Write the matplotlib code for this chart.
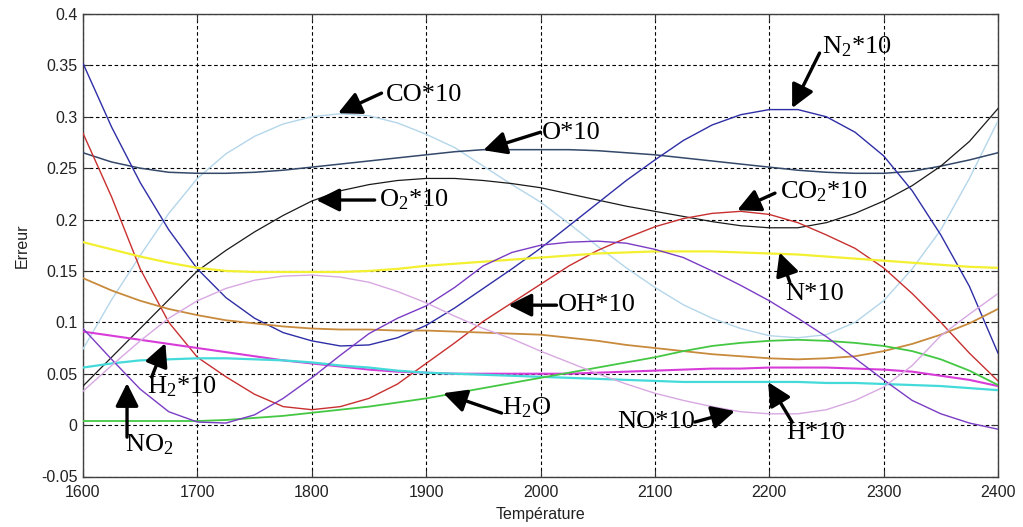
import numpy as np
import matplotlib
matplotlib.use("Agg")
import matplotlib.pyplot as plt

plt.rcParams['mathtext.fontset'] = 'custom'
plt.rcParams['mathtext.rm'] = 'Liberation Serif'
plt.rcParams['mathtext.it'] = 'Liberation Serif:italic'

# Temperature grid (K)
temperature = list(range(1600, 2401, 25))

err_N2 = [0.352, 0.290, 0.236, 0.190, 0.152, 0.124, 0.104, 0.090, 0.082, 0.077, 0.078,
          0.085, 0.097, 0.114, 0.133, 0.152, 0.172, 0.194, 0.216, 0.238, 0.258, 0.277,
          0.292, 0.302, 0.307, 0.307, 0.300, 0.285, 0.262, 0.228, 0.185, 0.135, 0.070]
err_CO = [0.074, 0.122, 0.165, 0.206, 0.240, 0.264, 0.281, 0.293, 0.300, 0.303, 0.301,
          0.294, 0.283, 0.270, 0.252, 0.234, 0.217, 0.196, 0.174, 0.153, 0.134, 0.117,
          0.104, 0.094, 0.087, 0.085, 0.088, 0.100, 0.121, 0.152, 0.190, 0.240, 0.296]
err_O = [0.265, 0.256, 0.250, 0.246, 0.245, 0.245, 0.246, 0.248, 0.251, 0.254, 0.257,
         0.260, 0.263, 0.266, 0.268, 0.268, 0.268, 0.268, 0.267, 0.265, 0.263, 0.260,
         0.257, 0.254, 0.251, 0.248, 0.246, 0.245, 0.245, 0.247, 0.252, 0.258, 0.265]
err_O2 = [0.038, 0.066, 0.094, 0.122, 0.150, 0.170, 0.188, 0.204, 0.218, 0.228, 0.234,
          0.238, 0.240, 0.240, 0.238, 0.235, 0.231, 0.225, 0.219, 0.213, 0.208, 0.203,
          0.198, 0.194, 0.192, 0.192, 0.197, 0.206, 0.218, 0.233, 0.252, 0.276, 0.308]
err_CO2 = [0.284, 0.222, 0.152, 0.100, 0.066, 0.047, 0.030, 0.018, 0.015, 0.018, 0.026,
           0.040, 0.060, 0.080, 0.101, 0.119, 0.137, 0.155, 0.170, 0.182, 0.193, 0.201,
           0.206, 0.208, 0.205, 0.197, 0.185, 0.172, 0.153, 0.128, 0.100, 0.070, 0.043]
err_N = [0.178, 0.171, 0.164, 0.158, 0.153, 0.150, 0.149, 0.149, 0.149, 0.149, 0.150,
         0.152, 0.155, 0.157, 0.159, 0.161, 0.163, 0.165, 0.167, 0.168, 0.169, 0.169,
         0.169, 0.168, 0.167, 0.166, 0.164, 0.162, 0.160, 0.158, 0.156, 0.154, 0.153]
err_other = [0.143, 0.131, 0.121, 0.113, 0.107, 0.102, 0.099, 0.096, 0.094, 0.093, 0.093,
             0.092, 0.092, 0.091, 0.090, 0.089, 0.088, 0.085, 0.082, 0.078, 0.075, 0.072,
             0.069, 0.067, 0.065, 0.064, 0.065, 0.067, 0.072, 0.079, 0.088, 0.099, 0.113]
err_H2 = [0.091, 0.087, 0.083, 0.079, 0.075, 0.071, 0.067, 0.063, 0.060, 0.057, 0.054,
          0.052, 0.051, 0.050, 0.050, 0.050, 0.050, 0.050, 0.051, 0.052, 0.053, 0.054,
          0.055, 0.055, 0.056, 0.056, 0.056, 0.055, 0.054, 0.052, 0.048, 0.044, 0.038]
err_H = [0.056, 0.060, 0.063, 0.064, 0.065, 0.065, 0.064, 0.063, 0.061, 0.058, 0.056,
         0.053, 0.051, 0.050, 0.049, 0.048, 0.047, 0.046, 0.045, 0.044, 0.043, 0.042,
         0.042, 0.042, 0.042, 0.042, 0.041, 0.041, 0.040, 0.039, 0.038, 0.036, 0.034]
err_H2O = [0.004, 0.004, 0.004, 0.004, 0.004, 0.005, 0.007, 0.009, 0.012, 0.015, 0.018,
           0.022, 0.026, 0.031, 0.036, 0.041, 0.046, 0.051, 0.056, 0.061, 0.066, 0.072,
           0.077, 0.080, 0.082, 0.083, 0.082, 0.080, 0.077, 0.072, 0.064, 0.053, 0.039]
err_NO2 = [0.094, 0.064, 0.035, 0.013, 0.003, 0.002, 0.010, 0.026, 0.046, 0.068, 0.089,
           0.104, 0.116, 0.134, 0.155, 0.168, 0.175, 0.178, 0.179, 0.177, 0.171, 0.163,
           0.150, 0.136, 0.121, 0.104, 0.086, 0.065, 0.044, 0.024, 0.011, 0.002, -0.004]
err_NO = [0.033, 0.058, 0.082, 0.104, 0.121, 0.133, 0.141, 0.145, 0.146, 0.144, 0.139,
          0.130, 0.119, 0.106, 0.094, 0.084, 0.072, 0.061, 0.050, 0.040, 0.031, 0.024,
          0.018, 0.013, 0.011, 0.011, 0.015, 0.024, 0.037, 0.058, 0.087, 0.108, 0.128]

series = [
    (err_CO, '#b4d6ea', 1.0),
    (err_O, '#34486a', 1.1),
    (err_O2, '#1a1a1a', 0.9),
    (err_N2, '#2e2ea6', 1.0),
    (err_CO2, '#c83030', 1.0),
    (err_N, '#f2f030', 1.6),
    (err_other, '#c88a3c', 1.3),
    (err_H2, '#d83cd8', 1.5),
    (err_H, '#44dada', 1.6),
    (err_H2O, '#44c844', 1.3),
    (err_NO2, '#7a3cc4', 1.0),
    (err_NO, '#d8a8e2', 1.0),
]

# label, text anchor, arrow tail, arrow tip (data coordinates)
labels = [
    (r'CO*10', (1865, 0.321), (1861, 0.323), (1823, 0.3035)),
    (r'O*10', (2001, 0.284), (2000, 0.285), (1950, 0.2675)),
    (r'O$_2$*10', (1859, 0.219), (1855, 0.219), (1804, 0.219)),
    (r'N$_2$*10', (2246, 0.368), (2244, 0.362), (2220, 0.3084)),
    (r'CO$_2$*10', (2209, 0.2267), (2205, 0.2257), (2172, 0.2091)),
    (r'N*10', (2214, 0.128), (2218, 0.139), (2209, 0.168)),
    (r'OH*10', (2015, 0.1167), (2014, 0.1167), (1972, 0.1167)),
    (r'H$_2$O', (1966, 0.0165), (1966, 0.0117), (1915, 0.0311)),
    (r'NO*10', (2067, 0.003), (2135, 0.003), (2170, 0.0136)),
    (r'H*10', (2215, -0.0078), (2220, 0.003), (2199, 0.0418)),
    (r'H$_2$*10', (1656, 0.037), (1660, 0.0467), (1672, 0.0798)),
    (r'NO$_2$', (1637, -0.0195), (1638.5, -0.0117), (1638.5, 0.0409)),
]

W, H = 1023, 527
fig = plt.figure(figsize=(W / 100, H / 100), dpi=100)
ax = fig.add_axes([83 / W, 1 - 476.5 / H, 915 / W, 462.5 / H])

for vals, color, lw in series:
    ax.plot(temperature, vals, color=color, lw=lw, zorder=3)

ax.set_xlim(1600, 2400)
ax.set_ylim(-0.05, 0.4)
ax.set_xticks(np.arange(1600, 2401, 100))
ax.set_yticks(np.arange(-0.05, 0.401, 0.05))
ax.set_yticklabels(['-0.05', '0', '0.05', '0.1', '0.15', '0.2', '0.25', '0.3', '0.35', '0.4'])
ax.grid(True, color='black', linestyle=(0, (3.2, 2.4)), lw=0.8, zorder=1)
ax.tick_params(direction='in', length=5, width=0.8, top=True, right=True,
               labelsize=11.5, colors='#333333')
ax.tick_params(axis='x', pad=6)
ax.tick_params(axis='y', pad=4)
for lab in ax.get_xticklabels() + ax.get_yticklabels():
    lab.set_family('Liberation Sans')
    lab.set_color('#222222')
for sp in ax.spines.values():
    sp.set_color('#404040')
    sp.set_linewidth(1.0)

ax.set_xlabel('Température', family='Liberation Sans', fontsize=11.5, color='#222222', labelpad=5)
ax.set_ylabel('Erreur', family='Liberation Sans', fontsize=11.5, color='#222222', labelpad=8)

for text, txy, tail, tip in labels:
    ax.annotate('', xy=tip, xytext=tail,
                arrowprops=dict(arrowstyle='-|>,head_length=1.0,head_width=0.5',
                                mutation_scale=14, lw=2.4, color='black',
                                shrinkA=0, shrinkB=0),
                zorder=5)
    ax.text(txy[0], txy[1], text, ha='left', va='center', fontsize=19,
            family='Liberation Serif', color='black', zorder=6)

fig.savefig('out.png', dpi=100, facecolor='white')
